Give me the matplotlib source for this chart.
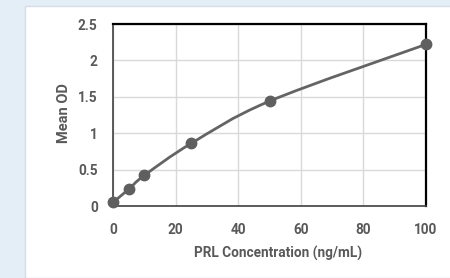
import numpy as np
import matplotlib
matplotlib.use("Agg")
import matplotlib.pyplot as plt
from matplotlib.path import Path
from matplotlib.patches import PathPatch, Rectangle

conc = [0, 5, 10, 25, 50, 100]
mean_od = [0.05, 0.23, 0.42, 0.86, 1.44, 2.22]
x_ticks = [0, 20, 40, 60, 80, 100]
y_ticks = [0, 0.5, 1, 1.5, 2, 2.5]
y_tick_labels = ["0", "0.5", "1", "1.5", "2", "2.5"]
x_label = "PRL Concentration (ng/mL)"
y_label = "Mean OD"

plt.rcParams['font.family'] = ['Roboto', 'DejaVu Sans']

fig = plt.figure(figsize=(4.5, 2.78), dpi=100)
fig.patch.set_facecolor('#e4eef7')
# white chart panel
panel = Rectangle((25/450, 0), 1, 1 - 6/278, transform=fig.transFigure,
                  facecolor='white', edgecolor='#d6dde4', linewidth=1, zorder=-10)
fig.add_artist(panel)

ax = fig.add_axes([113/450, 1 - 206/278, (426-113)/450, (206-24)/278])
ax.set_zorder(1)
ax.set_facecolor('white')
ax.set_xlim(0, 100)
ax.set_ylim(0, 2.5)
ax.set_xticks(x_ticks)
ax.set_yticks(y_ticks)
ax.set_yticklabels(y_tick_labels)
ax.grid(True, color='#d9d9d9', linewidth=1)
ax.set_axisbelow(True)
ax.tick_params(length=0, colors='#595959', labelsize=9.8)
ax.tick_params(axis='x', pad=12)
ax.tick_params(axis='y', pad=11)
for lab in ax.get_xticklabels() + ax.get_yticklabels():
    lab.set_fontweight('bold')
for s in ax.spines.values():
    s.set_color('black')
    s.set_linewidth(1.6)
ax.spines['left'].set_color('#404040')
ax.spines['left'].set_linewidth(1.2)
ax.spines['bottom'].set_color('#404040')
ax.spines['bottom'].set_linewidth(1.2)

# smoothed line (Catmull-Rom style Bezier through the data points)
xs = np.array(conc, dtype=float)
ys = np.array(mean_od, dtype=float)
verts = [(xs[0], ys[0])]
codes = [Path.MOVETO]
t = 1/6
n = len(xs)
for i in range(n - 1):
    p0 = (xs[i-1], ys[i-1]) if i > 0 else (xs[i], ys[i])
    p1 = (xs[i], ys[i])
    p2 = (xs[i+1], ys[i+1])
    p3 = (xs[i+2], ys[i+2]) if i + 2 < n else (xs[i+1], ys[i+1])
    c1 = (p1[0] + (p2[0]-p0[0])*t, p1[1] + (p2[1]-p0[1])*t)
    c2 = (p2[0] - (p3[0]-p1[0])*t, p2[1] - (p3[1]-p1[1])*t)
    verts += [c1, c2, p2]
    codes += [Path.CURVE4]*3
ax.add_patch(PathPatch(Path(verts, codes), facecolor='none', edgecolor='#646464',
                       linewidth=2, clip_on=False, zorder=3))
ax.plot(conc, mean_od, linestyle='none', marker='o', markersize=7.5,
        color='#5f5f5f', clip_on=False, zorder=4)

ax.set_xlabel(x_label, fontsize=9.8, fontweight='bold', color='#595959')
ax.xaxis.set_label_coords(0.527, -0.22)
ax.set_ylabel(y_label, fontsize=10.5, fontweight='bold', color='#595959')
ax.yaxis.set_label_coords(-0.135, 0.51)

fig.savefig('out.png', dpi=100, facecolor=fig.get_facecolor())
